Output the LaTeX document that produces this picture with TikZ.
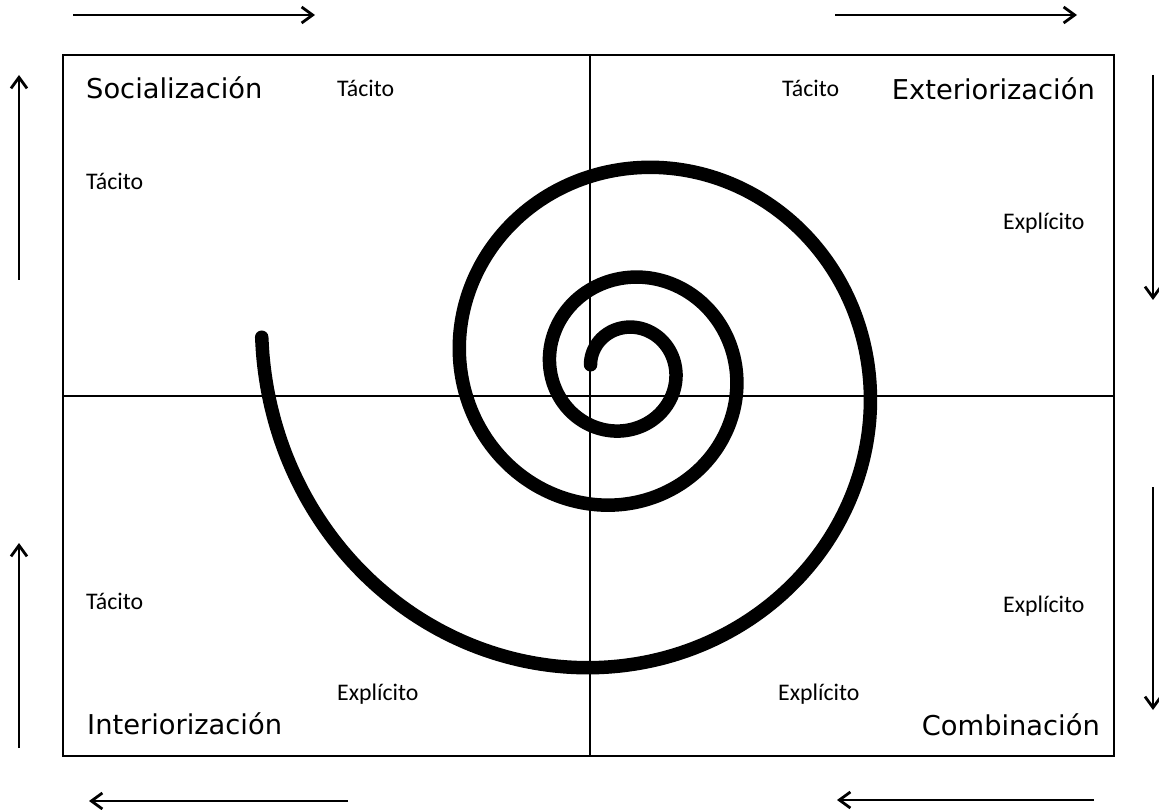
\documentclass[tikz,border=0pt]{standalone}
\usepackage{fontspec}
\newfontfamily\bigfont{DejaVu Sans}
\newfontfamily\smallfont{Carlito}
\usetikzlibrary{arrows.meta}
\begin{document}
\begin{tikzpicture}[x=1pt,y=-1pt,
  frame/.style={line width=2.8pt},
  axisline/.style={line width=1.3pt},
  flow/.style={line width=2.8pt,-{Straight Barb[length=11pt,width=16pt]}},
  spiralline/.style={line width=13.5pt,line cap=round},
  big/.style={inner sep=0pt,font=\bigfont\fontsize{27.3}{30}\selectfont},
  small/.style={inner sep=0pt,font=\smallfont\fontsize{23.8}{26}\selectfont}]
\useasboundingbox (0,0) rectangle (1159,810);
% frame and quadrants
\coordinate (tl) at (63,55);
\coordinate (br) at (1114,756);
\coordinate (vt) at (590,55);
\coordinate (vb) at (590,756);
\coordinate (hl) at (63,396);
\coordinate (hr) at (1114,396);
\draw[frame] (tl) rectangle (br);
\draw[axisline] (vt) -- (vb);
\draw[axisline] (hl) -- (hr);
% spiral
\draw[spiralline] plot[domain=-173:905,samples=400,smooth,variable=\t]
  ({625+51.4*exp(0.0021800*(\t-7))*cos(\t)},{369+51.4*exp(0.0021800*(\t-7))*sin(\t)});
% outer arrows
\coordinate (a1s) at (73,15);   \coordinate (a1e) at (315,15);
\coordinate (a2s) at (835,15);  \coordinate (a2e) at (1077,15);
\coordinate (a3s) at (1153,75); \coordinate (a3e) at (1153,300);
\coordinate (a4s) at (1153,487);\coordinate (a4e) at (1153,710);
\coordinate (a5s) at (1094,800);\coordinate (a5e) at (837,800);
\coordinate (a6s) at (348,801); \coordinate (a6e) at (89,801);
\coordinate (a7s) at (19,748);  \coordinate (a7e) at (19,543);
\coordinate (a8s) at (19,280);  \coordinate (a8e) at (19,75);
\draw[flow] (a1s) -- (a1e);
\draw[flow] (a2s) -- (a2e);
\draw[flow] (a3s) -- (a3e);
\draw[flow] (a4s) -- (a4e);
\draw[flow] (a5s) -- (a5e);
\draw[flow] (a6s) -- (a6e);
\draw[flow] (a7s) -- (a7e);
\draw[flow] (a8s) -- (a8e);
% labels
\node[big,anchor=base west] (soc) at (86,99) {Socialización};
\node[big,anchor=base east] (ext) at (1095,100) {Exteriorización};
\node[big,anchor=base east] (com) at (1100,735) {Combinación};
\node[big,anchor=base west] (int) at (87,734) {Interiorización};
\node[small,anchor=base west] (t1) at (337,97) {Tácito};
\node[small,anchor=base west] (t2) at (86,190) {Tácito};
\node[small,anchor=base west] (t3) at (782,97) {Tácito};
\node[small,anchor=base west] (e1) at (1003,230) {Explícito};
\node[small,anchor=base west] (e2) at (1003,612) {Explícito};
\node[small,anchor=base west] (e3) at (778,700) {Explícito};
\node[small,anchor=base west] (t4) at (86,609) {Tácito};
\node[small,anchor=base west] (e4) at (337,700) {Explícito};
\end{tikzpicture}
\end{document}
